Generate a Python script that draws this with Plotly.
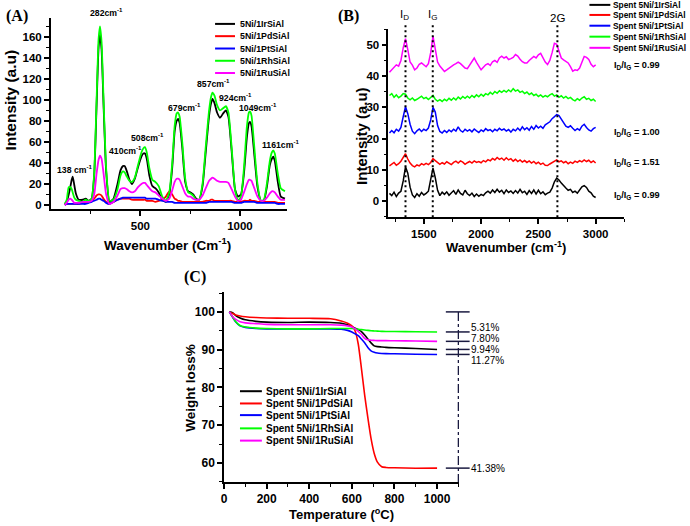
import plotly.graph_objects as go

W, H = 690, 526
FONT = "Liberation Sans"

# ---------------- shared ----------------
names_a = ["5Ni/1IrSiAl", "5Ni/1PdSiAl", "5Ni/1PtSiAl", "5Ni/1RhSiAl", "5Ni/1RuSiAl"]
names_bc = ["Spent 5Ni/1IrSiAl", "Spent 5Ni/1PdSiAl", "Spent 5Ni/1PtSiAl",
            "Spent 5Ni/1RhSiAl", "Spent 5Ni/1RuSiAl"]
colors = ["#000000", "#ff0000", "#0000ff", "#00ff00", "#ff00ff"]

# ---------------- Panel A: Raman, fresh catalysts ----------------
wn_a = [120, 130, 140, 148, 155, 160, 168, 176, 190, 210,
        225, 240, 255, 268, 280, 290, 297, 305, 315, 328,
        345, 365, 385, 400, 412, 421, 432, 445, 458, 472,
        488, 505, 515, 523, 532, 545, 560, 575, 592, 610,
        628, 645, 660, 672, 682, 689, 697, 710, 725, 740,
        752, 765, 780, 795, 812, 828, 845, 855, 862, 872,
        885, 900, 915, 929, 942, 958, 975, 990, 1005, 1020,
        1035, 1045, 1050, 1058, 1072, 1088, 1105, 1120, 1135, 1150,
        1160, 1167, 1175, 1190, 1205, 1226]
ir_a = [1, 3, 10, 17, 24, 27, 19, 11, 5, 5,
        6, 4, 6, 28, 95, 150, 162, 148, 95, 32,
        3, 6, 20, 33, 37, 37, 32, 24, 20, 25,
        36, 46, 49, 49, 44, 28, 18, 16, 12, 5,
        3, 10, 36, 70, 80, 82, 78, 55, 22, 13,
        12, 10, 6, 5, 18, 50, 85, 97, 101, 97,
        88, 83, 87, 90, 84, 52, 15, 8, 10, 30,
        65, 78, 79, 75, 48, 17, 4, 4, 17, 38,
        44, 46, 42, 22, 8, 6]
pd_a = [0, 1, 1, 1, 1, 1, 1, 1, 1, 2,
        2, 3, 4, 6, 9, 10, 10, 9, 6, 3,
        1, 3, 5, 6, 6, 6, 6, 6, 5, 5,
        5, 5, 5, 5, 4, 4, 4, 3, 4, 5,
        8, 13, 10, 6, 5, 4, 4, 3, 3, 3,
        3, 3, 3, 3, 3, 4, 4, 5, 5, 4,
        4, 4, 4, 4, 4, 4, 3, 3, 3, 4,
        4, 4, 5, 4, 4, 3, 3, 3, 3, 3,
        3, 3, 3, 2, 2, 2]
pt_a = [0, 1, 1, 1, 1, 1, 1, 1, 1, 1,
        1, 2, 3, 4, 5, 6, 6, 5, 4, 2,
        1, 3, 5, 6, 7, 7, 7, 7, 7, 7,
        7, 7, 7, 7, 6, 6, 6, 6, 5, 4,
        3, 3, 3, 2, 2, 2, 2, 2, 2, 2,
        2, 2, 2, 2, 2, 2, 3, 3, 3, 3,
        3, 3, 3, 3, 3, 3, 2, 2, 2, 3,
        3, 3, 3, 3, 3, 2, 2, 2, 2, 2,
        2, 2, 2, 1, 1, 1]
rh_a = [1, 5, 17, 17, 15, 12, 7, 5, 4, 3,
        5, 4, 6, 30, 100, 158, 170, 155, 100, 35,
        4, 5, 15, 28, 32, 31, 27, 23, 22, 26,
        38, 50, 54, 55, 50, 35, 24, 22, 18, 8,
        4, 12, 40, 75, 87, 88, 84, 60, 25, 12,
        11, 9, 5, 5, 20, 55, 90, 103, 107, 104,
        95, 90, 92, 94, 88, 55, 15, 4, 8, 35,
        75, 88, 89, 85, 55, 20, 4, 5, 20, 42,
        50, 52, 49, 30, 16, 13]
ru_a = [0, 2, 5, 6, 5, 4, 2, 2, 2, 3,
        3, 3, 4, 10, 30, 43, 47, 44, 30, 10,
        1, 3, 9, 15, 16, 16, 15, 13, 12, 13,
        17, 20, 21, 21, 19, 16, 13, 12, 9, 6,
        4, 6, 14, 22, 25, 25, 24, 18, 11, 8,
        8, 6, 5, 5, 9, 16, 23, 25, 26, 25,
        23, 22, 22, 22, 21, 15, 8, 4, 5, 12,
        20, 24, 24, 23, 16, 8, 4, 4, 7, 11,
        13, 13, 12, 8, 5, 5]
peak_labels_a = ["138 cm<sup>-1</sup>", "282cm<sup>-1</sup>", "410cm<sup>-1</sup>",
                 "508cm<sup>-1</sup>", "679cm<sup>-1</sup>", "857cm<sup>-1</sup>",
                 "924cm<sup>-1</sup>", "1049cm<sup>-1</sup>", "1161cm<sup>-1</sup>"]

# ---------------- Panel B: Raman, spent catalysts ----------------
wn_b = [1200, 1220, 1240, 1260, 1280, 1300, 1320, 1340, 1360, 1380,
        1400, 1420, 1440, 1460, 1480, 1500, 1520, 1540, 1560, 1580,
        1600, 1620, 1640, 1660, 1680, 1700, 1720, 1740, 1760, 1780,
        1800, 1820, 1840, 1860, 1880, 1900, 1920, 1940, 1960, 1980,
        2000, 2020, 2040, 2060, 2080, 2100, 2120, 2140, 2160, 2180,
        2200, 2220, 2240, 2260, 2280, 2300, 2320, 2340, 2360, 2380,
        2400, 2420, 2440, 2460, 2480, 2500, 2520, 2540, 2560, 2580,
        2600, 2620, 2640, 2660, 2680, 2700, 2720, 2740, 2760, 2780,
        2800, 2820, 2840, 2860, 2880, 2900, 2920, 2940, 2960, 2980,
        3000]
ir_b = [2.5, 1.8, 2.9, 1.5, 2.6, 3.2, 6.5, 11.0, 9.0, 4.5,
        2.0, 1.2, 2.4, 1.6, 2.8, 2.0, 2.5, 3.2, 7.0, 10.6,
        7.5, 3.5, 1.8, 2.9, 2.2, 3.0, 1.9, 2.6, 3.4, 2.2,
        3.6, 2.5, 2.0, 3.5, 2.4, 1.8, 2.6, 1.5, 2.3, 1.6,
        2.2, 1.8, 2.7, 3.2, 2.6, 3.6, 2.8, 3.8, 2.9, 3.5,
        2.4, 3.6, 2.8, 3.3, 2.5, 3.4, 2.6, 3.8, 2.7, 3.2,
        2.2, 3.4, 2.5, 3.6, 2.3, 3.5, 2.4, 3.0, 2.1, 2.6,
        2.9, 4.2, 6.2, 7.4, 6.8, 5.8, 4.9, 4.2, 3.5, 3.8,
        2.8, 3.2, 2.6, 3.5, 4.6, 5.0, 4.4, 3.2, 2.7, 1.6,
        1.2]
pd_b = [11.3, 11.8, 12.4, 11.5, 12.0, 12.8, 14.2, 15.2, 13.5, 12.2,
        11.4, 11.0, 11.6, 11.3, 12.0, 11.6, 12.1, 11.7, 12.4, 13.6,
        13.0, 12.5, 11.8, 12.3, 11.9, 12.6, 12.0, 11.7, 12.4, 12.8,
        12.2, 12.9, 12.5, 11.8, 12.3, 12.7, 12.2, 12.9, 12.4, 12.7,
        12.3, 13.0, 12.6, 13.3, 12.9, 13.7, 13.2, 14.0, 13.4, 13.8,
        13.1, 13.9, 13.2, 13.6, 12.8, 13.4, 12.7, 13.2, 12.5, 13.0,
        12.4, 12.9, 12.2, 12.7, 12.0, 12.5, 11.8, 12.2, 11.5, 11.4,
        11.9, 12.3, 12.8, 13.2, 12.6, 12.9, 12.3, 12.7, 12.0, 12.5,
        12.1, 12.8, 12.4, 13.0, 12.6, 13.2, 12.7, 13.1, 12.4, 12.9,
        12.2]
pt_b = [21.8, 22.6, 21.9, 23.0, 22.4, 23.6, 27.0, 30.2, 28.0, 24.6,
        22.4, 21.6, 22.5, 23.1, 22.3, 23.0, 22.6, 23.4, 26.0, 30.0,
        28.5, 24.2, 22.3, 21.8, 22.6, 22.0, 22.8, 22.2, 23.0, 22.4,
        23.8, 22.6, 22.1, 23.0, 22.4, 22.9, 22.2, 23.1, 22.5, 22.0,
        22.8, 22.3, 23.2, 22.6, 22.9, 22.2, 23.0, 22.5, 23.3, 22.7,
        23.1, 22.4, 22.9, 22.1, 23.0, 22.5, 23.4, 22.6, 23.8, 22.9,
        23.5, 22.7, 23.9, 23.0, 24.2, 23.4, 24.0, 23.3, 24.4, 24.8,
        25.4, 26.4, 27.2, 27.7, 27.4, 26.4, 25.0, 24.0, 23.6, 24.1,
        23.3, 22.6, 23.2, 22.7, 24.0, 24.6, 23.6, 22.8, 22.4, 23.2,
        23.6]
rh_b = [33.8, 34.4, 33.2, 34.0, 33.1, 33.6, 34.4, 34.2, 33.0, 32.4,
        33.0, 32.2, 32.6, 33.2, 33.6, 32.8, 33.2, 32.5, 33.1, 33.8,
        32.6, 32.0, 32.5, 31.9, 32.6, 32.1, 32.9, 32.3, 33.0, 32.4,
        33.3, 32.7, 33.5, 32.9, 33.6, 33.0, 33.8, 33.2, 34.0, 33.4,
        34.2, 33.6, 34.4, 34.0, 34.8, 34.2, 35.1, 34.5, 35.3, 34.8,
        35.4, 34.9, 35.6, 35.0, 36.0, 35.2, 35.6, 34.8, 35.2, 34.4,
        34.9, 34.1, 34.6, 33.8, 34.2, 33.5, 34.0, 33.3, 33.8, 33.4,
        34.0, 34.4, 33.6, 34.0, 33.2, 33.7, 33.0, 33.5, 32.8, 33.2,
        32.5, 32.1, 32.8, 32.3, 33.0, 33.4, 32.6, 32.9, 32.2, 32.6,
        31.9]
ru_b = [41.2, 42.0, 42.8, 43.6, 43.2, 45.0, 49.0, 52.0, 48.5, 44.5,
        43.5, 42.0, 42.6, 43.8, 44.2, 43.6, 43.0, 44.0, 47.5, 52.8,
        48.0, 44.5, 43.2, 42.2, 41.5, 42.0, 42.6, 43.0, 43.6, 44.0,
        44.5, 44.0, 43.2, 42.6, 42.4, 43.5, 44.6, 45.8, 44.4, 43.0,
        42.0, 42.8, 43.6, 44.0, 43.4, 44.6, 45.0, 44.4, 45.8, 46.4,
        45.8, 46.2, 45.3, 45.6, 46.0, 46.9, 46.4, 45.4, 44.6, 44.2,
        44.2, 45.0, 45.6, 46.3, 45.8, 46.8, 47.3, 46.0, 44.5, 43.7,
        45.0, 47.5, 50.5, 50.2, 48.0, 45.8, 45.2, 44.7, 44.2, 43.0,
        41.6, 42.0, 41.8, 42.6, 44.5, 46.3, 46.0, 45.3, 43.8, 43.0,
        43.6]
band_pos_b = [1340, 1578, 2666]
band_labels_b = ["I<sub>D</sub>", "I<sub>G</sub>", "2G"]
ratio_labels_b = ["I<sub>D</sub>/I<sub>G</sub> = 0.99", "I<sub>D</sub>/I<sub>G</sub> = 1.00",
                  "I<sub>D</sub>/I<sub>G</sub> = 1.51", "I<sub>D</sub>/I<sub>G</sub> = 0.99"]

# ---------------- Panel C: TGA, spent catalysts ----------------
temp_c = [25, 40, 55, 75, 100, 150, 200, 300, 400, 500,
          550, 580, 600, 615, 630, 645, 660, 675, 690, 705,
          720, 740, 760, 800, 900, 1000]
ir_c = [100, 99.8, 99.0, 98.4, 97.9, 97.5, 97.3, 97.2, 97.3, 97.2,
        97.0, 96.6, 96.1, 95.7, 95.3, 94.8, 93.9, 92.8, 91.8, 91.0,
        90.8, 90.7, 90.6, 90.5, 90.3, 90.06]
pd_c = [100, 99.6, 99.2, 98.9, 98.7, 98.5, 98.4, 98.3, 98.3, 98.2,
        97.6, 97.0, 96.3, 95.0, 91.5, 85.0, 78.0, 72.0, 66.5, 62.5,
        60.2, 59.0, 58.8, 58.7, 58.6, 58.62]
pt_c = [100, 98.6, 97.3, 96.3, 95.9, 95.6, 95.5, 95.5, 95.5, 95.5,
        95.4, 95.1, 94.7, 94.2, 93.7, 92.8, 91.8, 90.6, 89.7, 89.3,
        89.1, 89.0, 88.95, 88.9, 88.8, 88.73]
rh_c = [100, 98.7, 97.4, 96.4, 96.0, 95.7, 95.6, 95.5, 95.5, 95.6,
        95.6, 95.6, 95.6, 95.5, 95.4, 95.3, 95.2, 95.1, 95.0, 94.95,
        94.9, 94.85, 94.8, 94.8, 94.75, 94.69]
ru_c = [100, 98.8, 98.0, 97.4, 97.1, 96.9, 96.7, 96.6, 96.6, 96.6,
        96.5, 96.3, 96.0, 95.5, 94.8, 94.0, 93.0, 92.6, 92.5, 92.45,
        92.4, 92.4, 92.4, 92.35, 92.3, 92.2]
loss_c = [5.31, 7.80, 9.94, 11.27, 41.38]
loss_labels_c = ["5.31%", "7.80%", "9.94%", "11.27%", "41.38%"]
bracket_x_c = 1097
start_weight_c = 100

# ---------------- figure ----------------
fig = go.Figure()

for nm, col, ys in zip(names_a, colors, [ir_a, pd_a, pt_a, rh_a, ru_a]):
    fig.add_trace(go.Scatter(x=wn_a, y=ys, mode="lines", name=nm,
                             line=dict(color=col, width=1.8, shape="spline", smoothing=0.5),
                             xaxis="x", yaxis="y", showlegend=False))
for nm, col, ys in zip(names_bc, colors, [ir_b, pd_b, pt_b, rh_b, ru_b]):
    fig.add_trace(go.Scatter(x=wn_b, y=ys, mode="lines", name=nm,
                             line=dict(color=col, width=1.5),
                             xaxis="x2", yaxis="y2", showlegend=False))
for nm, col, ys in zip(names_bc, colors, [ir_c, pd_c, pt_c, rh_c, ru_c]):
    fig.add_trace(go.Scatter(x=temp_c, y=ys, mode="lines", name=nm,
                             line=dict(color=col, width=1.6, shape="spline", smoothing=0.6),
                             xaxis="x3", yaxis="y3", showlegend=False))

# weight-loss bracket ticks (panel C)
tick_levels = [start_weight_c] + [start_weight_c - v for v in loss_c]
fig.add_trace(go.Scatter(x=[bracket_x_c] * len(tick_levels), y=tick_levels, mode="markers",
                         marker=dict(symbol="line-ew", size=17, color="#1a1a40",
                                     line=dict(color="#1a1a40", width=1.5)),
                         cliponaxis=False, xaxis="x3", yaxis="y3", showlegend=False,
                         hoverinfo="skip"))


def axis(domain, rng, dtick, mdtick, anchor, fsize):
    return dict(domain=domain, range=rng, anchor=anchor, showline=True, linecolor="black",
                linewidth=1.5, ticks="outside", ticklen=5, tickwidth=1.5, tickcolor="black",
                dtick=dtick, tick0=0, showgrid=False, zeroline=False,
                tickfont=dict(family=FONT, size=fsize, color="black", weight="bold"),
                minor=dict(ticks="outside", ticklen=3, tickwidth=1, tickcolor="black",
                           dtick=mdtick, tick0=0, showgrid=False))


def PX(p):
    return p / W


def PY(p):
    return 1 - p / H


fig.update_layout(
    width=W, height=H, margin=dict(l=0, r=0, t=0, b=0),
    paper_bgcolor="white", plot_bgcolor="white", showlegend=False,
    xaxis=axis([PX(48), PX(285)], [50, 1235], 500, 250, "y", 11.5),
    yaxis=axis([PY(210), PY(18)], [-4, 178], 20, 10, "x", 11.5),
    xaxis2=axis([PX(387), PX(624)], [1190, 3250], 500, 250, "y2", 11.5),
    yaxis2=axis([PY(218), PY(29)], [-5.1, 55.1], 10, 5, "x2", 11.5),
    xaxis3=axis([PX(222), PX(458)], [0, 1103], 200, 100, "y3", 12),
    yaxis3=axis([PY(484), PY(293)], [54.9, 105.3], 10, 5, "x3", 12),
)

shapes = []
ann = []


def text(x, y, s, size, bold=True, family=FONT, angle=0, xanchor="center", color="black"):
    ann.append(dict(x=PX(x), y=PY(y), xref="paper", yref="paper",
                    text=("<b>" + s + "</b>") if bold else s, showarrow=False,
                    xanchor=xanchor, yanchor="middle", textangle=angle,
                    font=dict(family=family, size=size, color=color)))


# panel letters
text(14, 16, "(A)", 16, family="Liberation Serif")
text(347, 16, "(B)", 16, family="Liberation Serif")
text(193, 278, "(C)", 16, family="Liberation Serif")

# axis titles
text(165, 245, "Wavenumber (Cm<sup>-1</sup>)", 13.5)
text(8, 100, "Intensity (a.u)", 15.5, angle=-90)
text(505, 248, "Wavenumber (cm<sup>-1</sup>)", 13)
text(360, 136, "Intensity (a.u)", 15, angle=-90)
text(340, 516, "Temperature (<sup>o</sup>C)", 13)
text(188, 389, "Weight loss%", 13.5, angle=-90)

# peak labels panel A (pixel centres of the printed labels)
peak_label_px = [(72, 170), (104, 12), (123, 151), (145, 138), (182, 107),
                 (211, 83), (234, 97), (256, 107), (279, 145)]
for lab, (px, py) in zip(peak_labels_a, peak_label_px):
    text(px, py, lab, 8.7)

# panel B band lines and labels
for xb in band_pos_b:
    shapes.append(dict(type="line", xref="x2", yref="y2 domain", x0=xb, x1=xb, y0=0, y1=1.032,
                       line=dict(color="black", width=2, dash="2px,3px")))
for lab, px, py in zip(band_labels_b, [403, 431, 557], [15, 15, 18]):
    text(px, py, lab, 11.5, bold=False)
for lab, py in zip(ratio_labels_b, [66, 133, 163, 196]):
    text(612, py, lab, 9.2, xanchor="left")

# panel C dash-dot guide and loss labels
shapes.append(dict(type="line", xref="x3", yref="y3", x0=1100, x1=1100, y0=100, y1=54.9,
                   line=dict(color="#1a1a40", width=1.3, dash="dashdot")))
for lab, py in zip(loss_labels_c, [329, 340, 351, 362, 470.5]):
    text(468, py, lab, 10, bold=False, xanchor="left")


# manual legends
def legend(x0, x1, xt, ys, labels, size):
    for y, lab, col in zip(ys, labels, colors):
        shapes.append(dict(type="line", xref="paper", yref="paper", x0=PX(x0), x1=PX(x1),
                           y0=PY(y), y1=PY(y), line=dict(color=col, width=2)))
        text(xt, y, lab, size, xanchor="left")


legend(213, 233, 236, [24, 36.3, 48.7, 61, 73.3], names_a, 8.8)
legend(589, 610, 611, [4.9, 15, 25.8, 36.8, 48], names_bc, 8.4)
legend(238, 260, 262, [392.7, 405, 416.7, 430, 442.3], names_bc, 10)

fig.update_layout(shapes=shapes, annotations=ann)
fig.write_html("out.html", config={"displayModeBar": False},
               post_script="document.body.style.margin='0';"
                           "document.body.style.overflow='hidden';")
